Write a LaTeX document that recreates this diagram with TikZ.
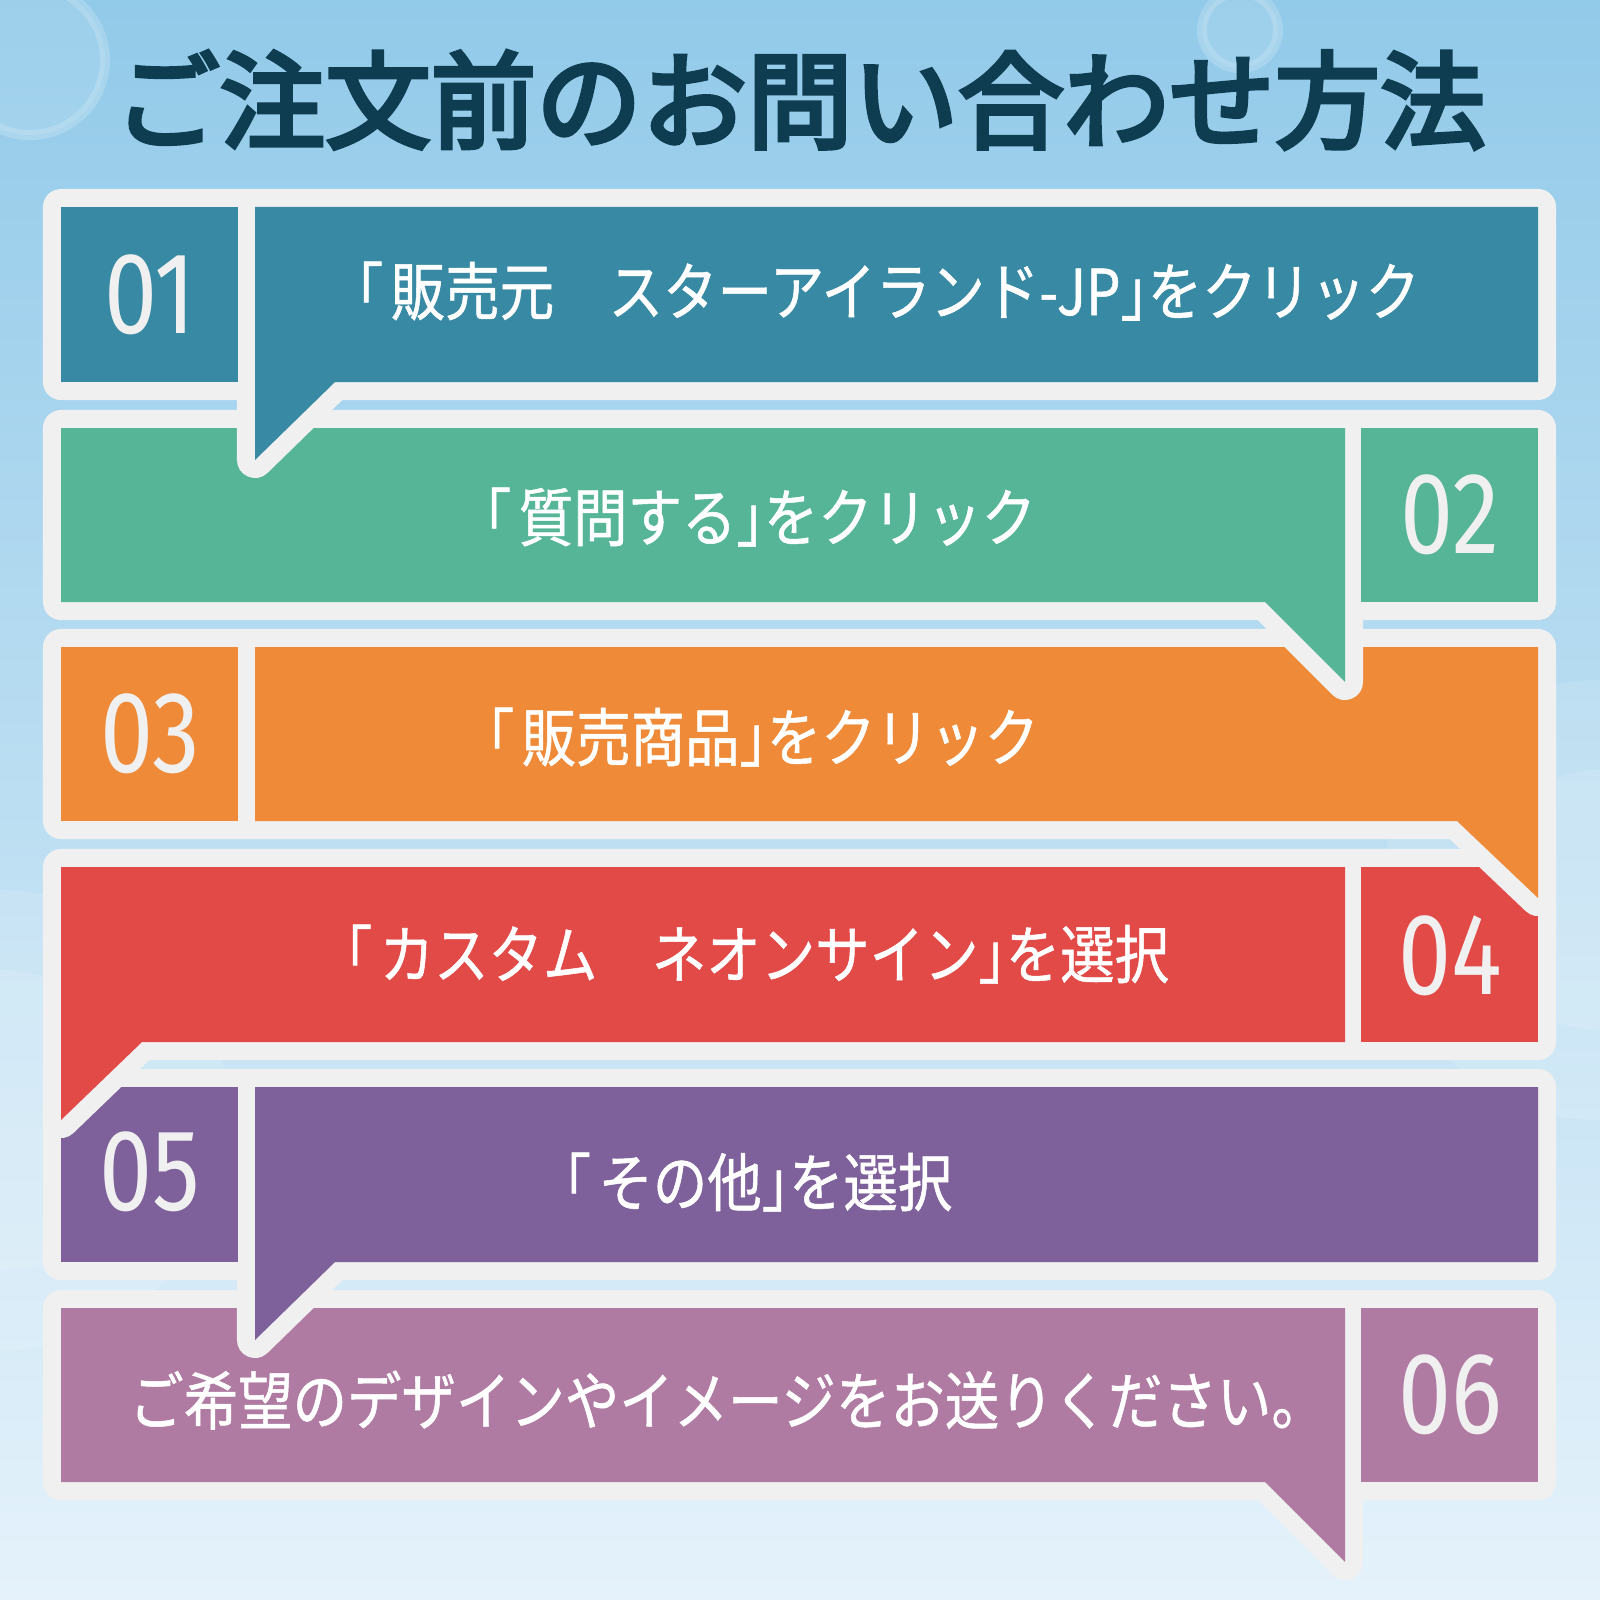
\documentclass[tikz,border=0pt]{standalone}
\usepackage{fontspec}
\usepackage{tikz}

\newfontfamily\titlefont{Noto Sans CJK JP}[FakeBold=4.2]
\newfontfamily\stepfont{Noto Sans CJK JP}[FakeStretch=0.86, FakeBold=0.8, RawFeature=+halt]
\newfontfamily\numfont{Fira Sans}[FakeStretch=0.82]
\newcommand{\lbr}{「\kern0.12em}

\definecolor{skytop}{HTML}{92CAE9}
\definecolor{skymid}{HTML}{C4E3F4}
\definecolor{skybottom}{HTML}{E5F2FB}
\definecolor{titleblue}{HTML}{0E3C50}
\definecolor{ringgray}{HTML}{F0F0F0}
\definecolor{stepone}{HTML}{3889A3}
\definecolor{steptwo}{HTML}{55B596}
\definecolor{stepthree}{HTML}{EE8A38}
\definecolor{stepfour}{HTML}{E24A48}
\definecolor{stepfive}{HTML}{7E609A}
\definecolor{stepsix}{HTML}{B07BA2}

\begin{document}
\begin{tikzpicture}[x=0.01cm, y=-0.01cm,
    ring/.style={draw=ringgray, fill=ringgray, line width=3.6mm, line join=round},
    bokeh/.style={fill=white, fill opacity=0.10, draw=white, draw opacity=0.18, line width=1mm},
    glow/.style={fill=white, opacity=0.12},
    titletxt/.style={text=titleblue, font=\titlefont\fontsize{30}{30}\selectfont, inner sep=0pt},
    numtxt/.style={text=ringgray, font=\numfont\fontsize{33}{33}\selectfont, inner sep=0pt},
    steptxt/.style={text=white, font=\stepfont\fontsize{18}{18}\selectfont, inner sep=0pt}
]
\useasboundingbox (0,0) rectangle (1600,1600);
% sky background
\shade[top color=skytop, middle color=skymid, bottom color=skybottom] (0,0) rectangle (1600,1600);
\draw[bokeh] (30,60) circle (75);
\draw[bokeh] (1240,30) circle (38);
\fill[glow] (0,1120) circle (230);
\fill[glow] (0,1120) circle (150);
\fill[glow] (1600,900) circle (220);
\fill[glow] (1600,900) circle (130);

\node[titletxt] (title) at (800,100) {ご注文前のお問い合わせ方法};

% step 06
\draw[ring] (61,1308) -- (1538,1308) -- (1538,1482) -- (1345,1482) -- (1345,1562) -- (1265,1482) -- (61,1482) -- cycle;
\fill[stepsix] (61,1308) -- (1345,1308) -- (1345,1562) -- (1265,1482) -- (61,1482) -- cycle;
\fill[stepsix] (1361,1308) rectangle (1538,1482);
\node[steptxt] (s6) at (714,1400) {ご希望のデザインやイメージをお送りください。};
\node[numtxt] (n6) at (1450,1395) {06};

% step 05
\draw[ring] (61,1087) -- (1538,1087) -- (1538,1262) -- (335,1262) -- (255,1340) -- (255,1262) -- (61,1262) -- cycle;
\fill[stepfive] (255,1087) -- (1538,1087) -- (1538,1262) -- (335,1262) -- (255,1340) -- cycle;
\fill[stepfive] (61,1087) rectangle (238,1262);
\node[steptxt] (s5) at (758,1182) {\lbr その他」を選択};
\node[numtxt] (n5) at (150,1172) {05};

% step 04
\draw[ring] (61,867) -- (1538,867) -- (1538,1042) -- (142,1042) -- (61,1120) -- cycle;
\fill[stepfour] (61,867) -- (1345,867) -- (1345,1042) -- (142,1042) -- (61,1120) -- cycle;
\fill[stepfour] (1361,867) rectangle (1538,1042);
\node[steptxt] (s4) at (757,954) {\lbr カスタム　ネオンサイン」を選択};
\node[numtxt] (n4) at (1450,956) {04};

% step 03
\draw[ring] (61,647) -- (1538,647) -- (1538,898) -- (1457,821) -- (61,821) -- cycle;
\fill[stepthree] (255,647) -- (1538,647) -- (1538,898) -- (1457,821) -- (255,821) -- cycle;
\fill[stepthree] (61,647) rectangle (238,821);
\node[steptxt] (s3) at (763,737) {\lbr 販売商品」をクリック};
\node[numtxt] (n3) at (150,734) {03};

% step 02
\draw[ring] (61,428) -- (1538,428) -- (1538,602) -- (1345,602) -- (1345,682) -- (1265,602) -- (61,602) -- cycle;
\fill[steptwo] (61,428) -- (1345,428) -- (1345,682) -- (1265,602) -- (61,602) -- cycle;
\fill[steptwo] (1361,428) rectangle (1538,602);
\node[steptxt] (s2) at (760,517) {\lbr 質問する」をクリック};
\node[numtxt] (n2) at (1450,515) {02};

% step 01
\draw[ring] (61,207) -- (1538,207) -- (1538,382) -- (335,382) -- (255,460) -- (255,382) -- (61,382) -- cycle;
\fill[stepone] (255,207) -- (1538,207) -- (1538,382) -- (335,382) -- (255,460) -- cycle;
\fill[stepone] (61,207) rectangle (238,382);
\node[steptxt] (s1) at (888,291) {\lbr 販売元　スターアイランド-JP」をクリック};
\node[numtxt] (n1) at (150,295) {01};
\end{tikzpicture}
\end{document}
